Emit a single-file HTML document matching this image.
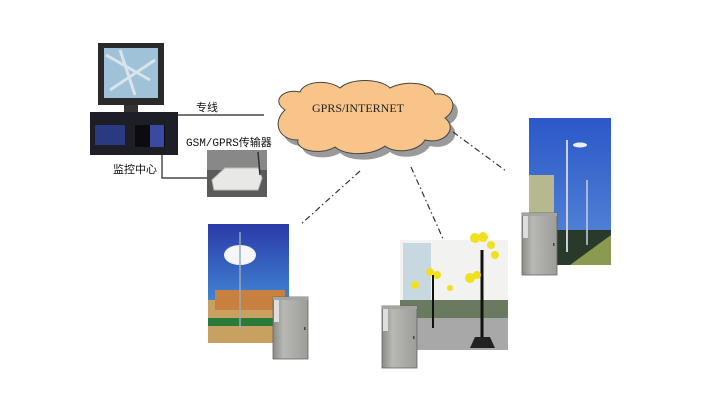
<!DOCTYPE html>
<html><head><meta charset="utf-8"><style>
html,body{margin:0;padding:0;background:#fff;width:717px;height:405px;overflow:hidden}
</style></head><body>
<svg width="717" height="405" viewBox="0 0 717 405" xmlns="http://www.w3.org/2000/svg" font-family="Liberation Serif, 'Noto Serif CJK SC', serif">
<defs>
<linearGradient id="sky" x1="0" y1="0" x2="0" y2="1"><stop offset="0" stop-color="#2a3aa8"/><stop offset="0.6" stop-color="#3f7fd0"/><stop offset="1" stop-color="#8ab0d8"/></linearGradient>
<linearGradient id="sky3" x1="0" y1="0" x2="0" y2="1"><stop offset="0" stop-color="#2a58c8"/><stop offset="1" stop-color="#5a8ad8"/></linearGradient>
<linearGradient id="cab" x1="0" y1="0" x2="1" y2="0"><stop offset="0" stop-color="#8a8a88"/><stop offset="0.3" stop-color="#b8b8b4"/><stop offset="1" stop-color="#9c9c98"/></linearGradient>
<g id="cabinet"><rect x="0" y="0" width="35" height="62" fill="url(#cab)" stroke="#666" stroke-width="0.8"/><rect x="1" y="3" width="5" height="22" fill="#ddd"/><rect x="31" y="30" width="1.5" height="3" fill="#444"/><rect x="0" y="0" width="35" height="3" fill="#a5a5a0"/></g>
</defs>
<!-- computer -->
<rect x="98" y="43" width="66" height="62" fill="#2a2a2a"/>
<rect x="104" y="48" width="54" height="50" fill="#9fc2d8"/>
<path d="M106 55 L150 80 M110 90 L155 60 M120 50 L135 95" stroke="#d8e4ec" stroke-width="3" fill="none"/>
<rect x="124" y="105" width="14" height="8" fill="#333"/>
<rect x="90" y="112" width="88" height="43" fill="#1e1e26"/>
<rect x="95" y="125" width="30" height="20" fill="#2a3a80"/>
<rect x="135" y="125" width="30" height="22" fill="#0c0c10"/>
<rect x="150" y="125" width="14" height="22" fill="#3a4aa0"/>
<!-- lines -->
<line x1="170" y1="115" x2="264" y2="115" stroke="#222" stroke-width="1.2"/>
<polyline points="162,155 162,178 207,178" stroke="#222" stroke-width="1.2" fill="none"/>
<text x="196" y="111" font-size="11" fill="#111" font-family="'Noto Sans CJK SC',sans-serif">专线</text>
<text x="186" y="146" font-size="11" fill="#111" font-family="Liberation Mono,'Noto Sans CJK SC',monospace">GSM/GPRS传输器</text>
<text x="113" y="173" font-size="11" fill="#111" font-family="'Noto Sans CJK SC',sans-serif">监控中心</text>
<!-- device -->
<rect x="207" y="150" width="60" height="47" fill="#5a5a5a"/>
<rect x="207" y="150" width="60" height="20" fill="#888"/>
<path d="M212 180 L225 168 L258 168 L262 178 L258 190 L214 190 Z" fill="#e8e8e6" stroke="#bbb"/>
<line x1="258" y1="152" x2="260" y2="175" stroke="#333" stroke-width="1.5"/>
<!-- cloud -->
<g transform="translate(5,6)" fill="#9a9a9a">
<path d="M285 110 C270 100 285 88 300 92 C305 80 330 80 340 88 C350 78 380 78 390 88 C405 80 430 82 435 94 C455 92 458 110 445 118 C458 128 445 145 425 140 C418 152 395 154 385 146 C372 156 345 156 335 147 C320 156 295 150 298 140 C278 140 272 122 285 110 Z"/>
</g>
<path d="M285 110 C270 100 285 88 300 92 C305 80 330 80 340 88 C350 78 380 78 390 88 C405 80 430 82 435 94 C455 92 458 110 445 118 C458 128 445 145 425 140 C418 152 395 154 385 146 C372 156 345 156 335 147 C320 156 295 150 298 140 C278 140 272 122 285 110 Z" fill="#f8c489" stroke="#444" stroke-width="1"/>
<text x="358" y="112" font-size="12" text-anchor="middle" fill="#222">GPRS/INTERNET</text>
<!-- dash-dot lines -->
<g stroke="#333" stroke-width="1.2" stroke-dasharray="6,3,1.5,3" fill="none">
<line x1="360" y1="171" x2="300" y2="225"/>
<line x1="411" y1="167" x2="448" y2="250"/>
<line x1="453" y1="132" x2="506" y2="171"/>
</g>
<!-- image1 -->
<rect x="208" y="224" width="81" height="119" fill="url(#sky)"/>
<ellipse cx="240" cy="255" rx="16" ry="10" fill="#f4f6fa"/>
<rect x="208" y="300" width="81" height="43" fill="#c8a060"/>
<rect x="215" y="290" width="70" height="20" fill="#c88040"/>
<rect x="208" y="318" width="81" height="8" fill="#2a7a3a"/>
<line x1="240" y1="232" x2="240" y2="330" stroke="#9ab" stroke-width="1.5"/>
<use href="#cabinet" x="273" y="297"/>
<!-- image2 -->
<rect x="400" y="240" width="108" height="110" fill="#f2f2f0"/>
<rect x="403" y="243" width="28" height="60" fill="#c8d8e0"/>
<rect x="400" y="300" width="108" height="20" fill="#6a7a60"/>
<rect x="400" y="318" width="108" height="32" fill="#a8a8a8"/>
<line x1="482" y1="250" x2="482" y2="345" stroke="#111" stroke-width="3"/>
<g fill="#f0e020"><circle cx="475" cy="238" r="5"/><circle cx="483" cy="237" r="5"/><circle cx="491" cy="245" r="4"/><circle cx="495" cy="255" r="4"/><circle cx="470" cy="278" r="5"/><circle cx="477" cy="275" r="4"/><circle cx="430" cy="272" r="4"/><circle cx="437" cy="275" r="4"/><circle cx="415" cy="285" r="4"/><circle cx="450" cy="288" r="3"/></g>
<line x1="433" y1="275" x2="433" y2="328" stroke="#111" stroke-width="2"/>
<path d="M470 348 L495 348 L490 337 L475 337 Z" fill="#222"/>
<use href="#cabinet" x="382" y="306"/>
<!-- image3 -->
<rect x="529" y="118" width="82" height="147" fill="url(#sky3)"/>
<rect x="529" y="175" width="25" height="60" fill="#b8b890"/>
<rect x="529" y="230" width="82" height="35" fill="#2a3a2a"/>
<path d="M570 265 L611 235 L611 265 Z" fill="#8a9a50"/>
<line x1="567" y1="140" x2="567" y2="252" stroke="#ccd" stroke-width="2"/>
<line x1="587" y1="180" x2="587" y2="245" stroke="#ccd" stroke-width="1.5"/>
<ellipse cx="580" cy="145" rx="7" ry="2.5" fill="#eee"/>
<use href="#cabinet" x="522" y="213"/>
</svg>
</body></html>
